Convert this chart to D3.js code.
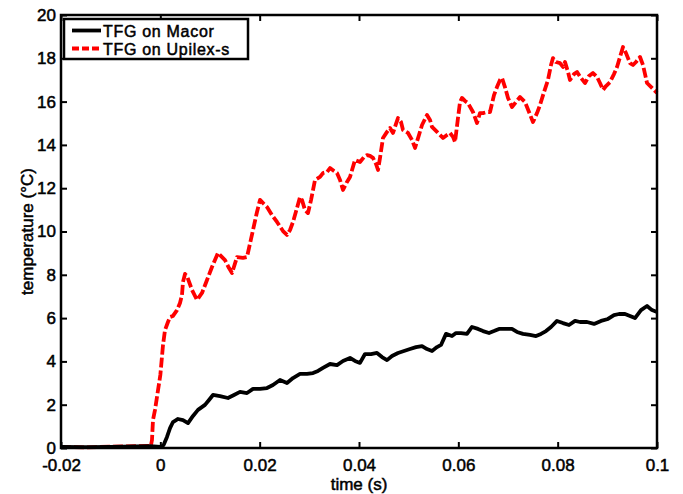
<!DOCTYPE html>
<html>
<head>
<meta charset="utf-8">
<script src="https://cdn.jsdelivr.net/npm/d3@7"></script>
<style>
  body { margin: 0; background: #fff; }
  text { font-family: "Liberation Sans", Arial, sans-serif; }
</style>
</head>
<body>
<script>
// values
const seriesNames = ["TFG on Macor", "TFG on Upilex-s"];

const xTicks = [-0.02, 0, 0.02, 0.04, 0.06, 0.08, 0.1];
const xTickLabels = ["-0.02", "0", "0.02", "0.04", "0.06", "0.08", "0.1"];
const yTicks = [0, 2, 4, 6, 8, 10, 12, 14, 16, 18, 20];

const macorTime = [-0.02, -0.015, -0.01, -0.005, -0.002, 0.0, 0.00034, 0.00074, 0.00134, 0.00195, 0.00255,
  0.00356, 0.00456, 0.00557, 0.00658, 0.00758, 0.00899, 0.0098, 0.0106, 0.01201, 0.01362, 0.01483, 0.01604,
  0.01745, 0.01866, 0.02007, 0.02148, 0.02268, 0.02409, 0.0255, 0.02671, 0.02812, 0.02953, 0.03074, 0.03175,
  0.03275, 0.03416, 0.03557, 0.03678, 0.03819, 0.03919, 0.0402, 0.04121, 0.04242, 0.04362, 0.04463, 0.04564,
  0.04665, 0.04785, 0.04906, 0.05027, 0.05148, 0.05269, 0.05369, 0.0547, 0.05571, 0.05651, 0.05752, 0.05872,
  0.05953, 0.06054, 0.06174, 0.06275, 0.06396, 0.06497, 0.06618, 0.06718, 0.06819, 0.06939, 0.0708, 0.07181,
  0.07302, 0.07443, 0.07564, 0.07664, 0.07765, 0.07866, 0.07986, 0.08107, 0.08228, 0.0835, 0.0845, 0.08591,
  0.08732, 0.08873, 0.09013, 0.09134, 0.09235, 0.09356, 0.09456, 0.09557, 0.09678, 0.09799, 0.09899, 0.1];
const macorTemp = [0.05, 0.04, 0.05, 0.07, 0.08, 0.05, 0.05, 0.18, 0.51, 0.92, 1.20,
  1.34, 1.29, 1.15, 1.48, 1.76, 1.99, 2.22, 2.45, 2.40, 2.31, 2.45, 2.59,
  2.54, 2.73, 2.73, 2.77, 2.91, 3.14, 3.0, 3.23, 3.42, 3.42, 3.46, 3.56,
  3.70, 3.88, 3.83, 4.02, 4.16, 4.02, 3.93, 4.34, 4.34, 4.39, 4.20, 4.06,
  4.25, 4.39, 4.48, 4.57, 4.66, 4.71, 4.57, 4.48, 4.66, 4.76, 5.27, 5.17,
  5.31, 5.31, 5.27, 5.59, 5.50, 5.40, 5.31, 5.40, 5.50, 5.50, 5.50, 5.36,
  5.27, 5.22, 5.17, 5.27, 5.40, 5.59, 5.87, 5.77, 5.68, 5.87, 5.82, 5.82,
  5.73, 5.87, 5.96, 6.14, 6.19, 6.19, 6.10, 6.0, 6.37, 6.56, 6.37, 6.28];

const upilexTime = [-0.02, -0.015, -0.01, -0.005, -0.0019, -0.00168, -0.00148, -0.00107, 0.0, 0.00054,
  0.00094, 0.00154, 0.00195, 0.00255, 0.00336, 0.00396, 0.00436, 0.00456, 0.00497, 0.00537, 0.00638, 0.00738,
  0.00839, 0.0094, 0.0104, 0.01161, 0.01302, 0.01383, 0.01443, 0.01544, 0.01664, 0.01745, 0.01866, 0.01946,
  0.02007, 0.02087, 0.02148, 0.02248, 0.02349, 0.0247, 0.0255, 0.02611, 0.02671, 0.02752, 0.02812, 0.02853,
  0.02913, 0.02973, 0.03034, 0.03114, 0.03215, 0.03275, 0.03356, 0.03416, 0.03497, 0.03557, 0.03618, 0.03678,
  0.03758, 0.03819, 0.03919, 0.0402, 0.04101, 0.04161, 0.04222, 0.04282, 0.04342, 0.04383, 0.04423, 0.04483,
  0.04564, 0.04624, 0.04685, 0.04745, 0.04785, 0.04846, 0.04886, 0.04987, 0.05067, 0.05128, 0.05208, 0.05269,
  0.05369, 0.0543, 0.0547, 0.05571, 0.05691, 0.05772, 0.05832, 0.05893, 0.05933, 0.05993, 0.06034, 0.06074,
  0.06134, 0.06195, 0.06295, 0.06376, 0.06436, 0.06497, 0.06577, 0.06638, 0.06718, 0.06778, 0.06839, 0.06879,
  0.06939, 0.0700, 0.0708, 0.07161, 0.07242, 0.07342, 0.07423, 0.07503, 0.07584, 0.07644, 0.07725, 0.07805,
  0.07866, 0.07906, 0.07966, 0.08047, 0.08107, 0.08148, 0.08208, 0.08248, 0.08329, 0.0839, 0.0847, 0.08551,
  0.08631, 0.08711, 0.08792, 0.08852, 0.08913, 0.08973, 0.09054, 0.09134, 0.09195, 0.09255, 0.09315, 0.09376,
  0.09456, 0.09517, 0.09577, 0.09658, 0.09718, 0.09799, 0.09899, 0.1];
const upilexTemp = [0.05, 0.03, 0.06, 0.08, 0.1, 0.37, 1.29, 1.76, 3.37, 4.76,
  5.45, 5.82, 6.05, 6.10, 6.37, 6.70, 7.07, 7.67, 8.04, 7.94, 7.30, 6.84,
  7.16, 7.76, 8.36, 9.01, 8.68, 8.31, 8.08, 8.82, 8.78, 8.82, 10.07, 10.90,
  11.46, 11.27, 11.13, 10.76, 10.44, 10.02, 9.84, 10.07, 10.44, 11.09, 11.59, 11.45,
  10.99, 10.85, 11.45, 12.38, 12.52, 12.70, 12.75, 12.93, 12.79, 12.70, 12.38, 11.92,
  12.29, 12.52, 13.30, 13.21, 13.44, 13.53, 13.49, 13.40, 13.12, 12.84, 13.40, 14.32,
  14.60, 14.78, 14.55, 14.97, 15.24, 15.06, 14.69, 14.55, 14.23, 13.86, 14.46, 14.92,
  15.38, 15.15, 14.83, 14.60, 14.32, 14.46, 14.55, 14.37, 14.13, 15.24, 15.98, 16.17,
  16.03, 15.93, 15.52, 15.01, 15.47, 15.47, 15.52, 15.52, 16.30, 16.67, 17.0, 17.09,
  16.67, 16.17, 15.75, 15.98, 16.21, 15.98, 15.52, 15.06, 15.47, 15.84, 16.44, 17.0,
  17.69, 18.01, 17.83, 17.78, 17.60, 17.83, 17.37, 17.0, 17.27, 17.37, 17.09, 16.86,
  17.18, 17.32, 17.14, 16.86, 16.54, 16.72, 16.90, 17.27, 17.60, 18.06, 18.52, 18.24,
  17.78, 17.69, 17.83, 18.06, 17.69, 16.86, 16.63, 16.40];

const width = 683;
const height = 494;
const margin = ({top: 15, right: 26, bottom: 46, left: 61});

const x = d3.scaleLinear()
  .domain([-0.02, 0.1])
  .range([margin.left, width - margin.right]);
const y = d3.scaleLinear()
  .domain([0, 20])
  .range([height - margin.bottom, margin.top]);

const svg = d3.select("body").append("svg")
  .attr("width", width)
  .attr("height", height);

const macor = macorTime.map((t, i) => [t, macorTemp[i]]);
const upilex = upilexTime.map((t, i) => [t, upilexTemp[i]]);

const line = d3.line()
  .x(d => x(d[0]))
  .y(d => y(d[1]));

svg.append("path")
  .datum(upilex)
  .attr("fill", "none")
  .attr("stroke", "#ff0000")
  .attr("stroke-width", 3.8)
  .attr("stroke-dasharray", "10,3")
  .attr("stroke-linejoin", "round")
  .attr("d", line);

svg.append("path")
  .datum(macor)
  .attr("fill", "none")
  .attr("stroke", "#000")
  .attr("stroke-width", 3.8)
  .attr("stroke-linejoin", "round")
  .attr("d", line);

// axes: ticks inward on all four sides
const tickLen = 6;
const styleAxis = g => {
  g.select(".domain").remove();
  g.selectAll(".tick line").attr("stroke", "#000").attr("stroke-width", 2);
  g.selectAll(".tick text")
    .attr("fill", "#000")
    .attr("font-size", 17)
    .attr("stroke", "#000")
    .attr("stroke-width", 0.5);
};

svg.append("g")
  .attr("transform", `translate(0,${y(0)})`)
  .call(d3.axisBottom(x).tickValues(xTicks).tickFormat((d, i) => xTickLabels[i])
    .tickSizeInner(-tickLen).tickSizeOuter(0).tickPadding(11))
  .call(styleAxis);

svg.append("g")
  .attr("transform", `translate(0,${y(20)})`)
  .call(d3.axisTop(x).tickValues(xTicks).tickFormat("").tickSizeInner(-tickLen).tickSizeOuter(0))
  .call(styleAxis);

svg.append("g")
  .attr("transform", `translate(${x(-0.02)},0)`)
  .call(d3.axisLeft(y).tickValues(yTicks).tickFormat(d3.format("d"))
    .tickSizeInner(-tickLen).tickSizeOuter(0).tickPadding(5))
  .call(styleAxis);

svg.append("g")
  .attr("transform", `translate(${x(0.1)},0)`)
  .call(d3.axisRight(y).tickValues(yTicks).tickFormat("").tickSizeInner(-tickLen).tickSizeOuter(0))
  .call(styleAxis);

svg.append("rect")
  .attr("x", x(-0.02))
  .attr("y", y(20))
  .attr("width", x(0.1) - x(-0.02))
  .attr("height", y(0) - y(20))
  .attr("fill", "none")
  .attr("stroke", "#000")
  .attr("stroke-width", 2.5);

// axis titles
svg.append("text")
  .attr("x", (x(-0.02) + x(0.1)) / 2)
  .attr("y", height - 4)
  .attr("text-anchor", "middle")
  .attr("font-size", 17)
  .attr("stroke", "#000")
  .attr("stroke-width", 0.5)
  .text("time (s)");

svg.append("text")
  .attr("transform", `translate(33,${(y(0) + y(20)) / 2}) rotate(-90)`)
  .attr("text-anchor", "middle")
  .attr("font-size", 17)
  .attr("stroke", "#000")
  .attr("stroke-width", 0.5)
  .text("temperature (°C)");

// legend
const legend = svg.append("g").attr("transform", "translate(64,19)");
legend.append("rect")
  .attr("width", 184)
  .attr("height", 40)
  .attr("fill", "#fff")
  .attr("stroke", "#000")
  .attr("stroke-width", 2.5);

const legendStyles = [
  {color: "#000", dash: null},
  {color: "#ff0000", dash: "7,3"}
];
seriesNames.forEach((name, i) => {
  const row = legend.append("g").attr("transform", `translate(0,${11.5 + i * 18})`);
  row.append("line")
    .attr("x1", 8).attr("x2", 37)
    .attr("stroke", legendStyles[i].color)
    .attr("stroke-width", 3.8)
    .attr("stroke-dasharray", legendStyles[i].dash);
  row.append("text")
    .attr("x", 39)
    .attr("y", 6)
    .attr("font-size", 16)
    .attr("letter-spacing", 0.7)
    .attr("stroke", "#000")
    .attr("stroke-width", 0.5)
    .text(name);
});
</script>
</body>
</html>
